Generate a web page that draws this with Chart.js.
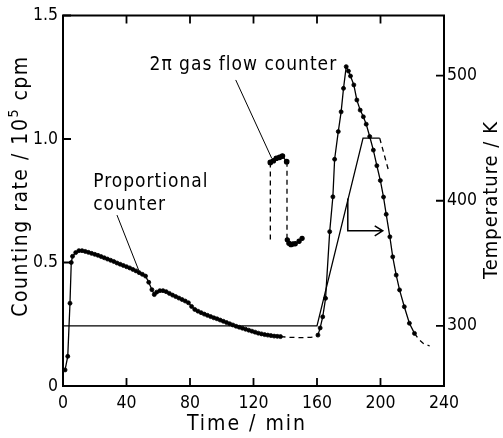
<!DOCTYPE html>
<html>
<head>
<meta charset="utf-8">
<script src="https://cdn.jsdelivr.net/npm/chart.js@4.4.0/dist/chart.umd.min.js"></script>
<style>
  html, body { margin: 0; padding: 0; background: #fff; }
  #wrap { width: 503px; height: 438px; }
</style>
</head>
<body>
<div id="wrap"><canvas id="chart" width="503" height="438"></canvas></div>
<script>
// proportional counter, counting rate in 10^5 cpm
const propTime = [1.3, 3, 4.4, 5.2, 6, 8, 10, 12, 14, 16, 18, 20, 22, 24, 26, 28, 30, 32, 34, 36, 38, 40, 42, 44, 46, 48, 50, 52,
  54, 56, 57.5, 59, 61, 63, 65, 67, 69, 71, 73, 75, 77, 79, 81, 83, 85, 87, 89, 91, 93, 95, 97, 99, 101, 103, 105, 107, 109,
  111, 113, 115, 117, 119, 121, 123, 125, 127, 129, 131, 133, 135, 137];
const propRate = [0.065, 0.12, 0.335, 0.50, 0.525, 0.540, 0.548, 0.548, 0.545, 0.541, 0.537, 0.533, 0.529, 0.524, 0.519, 0.514,
  0.509, 0.504, 0.498, 0.493, 0.488, 0.483, 0.478, 0.472, 0.466, 0.459, 0.452, 0.445,
  0.420, 0.390, 0.370, 0.380, 0.386, 0.386, 0.382, 0.375, 0.368, 0.362, 0.356, 0.350, 0.344, 0.337, 0.322, 0.310, 0.303,
  0.297, 0.291, 0.286, 0.281, 0.276, 0.272, 0.267, 0.262, 0.257, 0.252, 0.247, 0.242, 0.238, 0.234, 0.230, 0.226, 0.222,
  0.218, 0.214, 0.211, 0.208, 0.206, 0.204, 0.202, 0.201, 0.200];

// dashed stretch before heating
const baseTime = [137, 143, 150, 156, 159, 160.6];
const baseRate = [0.200, 0.197, 0.196, 0.197, 0.199, 0.206];

// peak during heating
const peakTime = [160.6, 162, 163.6, 165.4, 168, 170, 171.1, 173.4, 175.2, 176.7, 178.4, 179.8, 181.1, 183.2, 185.1, 187.2,
  189.2, 191, 193.2, 195.5, 197.7, 199.9, 201.9, 203.6, 205.9, 207.7, 209.9, 212, 215, 218.2, 221.4];
const peakRate = [0.206, 0.235, 0.28, 0.355, 0.625, 0.766, 0.918, 1.03, 1.11, 1.205, 1.293, 1.275, 1.255, 1.219, 1.158, 1.117,
  1.09, 1.06, 1.01, 0.955, 0.892, 0.832, 0.765, 0.695, 0.604, 0.523, 0.449, 0.389, 0.321, 0.254, 0.213];

const tailTime = [221.4, 224, 227, 231];
const tailRate = [0.213, 0.19, 0.172, 0.162];

// 2pi gas flow counter
const gasTopTime = [130.6, 132.5, 134.4, 136.4, 138.2, 140.9];
const gasTopRate = [0.905, 0.912, 0.922, 0.926, 0.931, 0.908];
const gasLeftTime = [130.6, 130.6];
const gasLeftRate = [0.905, 0.59];
const gasRightTime = [141.1, 141.1];
const gasRightRate = [0.908, 0.59];
const gasLowTime = [141.3, 142.3, 143.6, 144.8, 146.3, 148.7, 150.6];
const gasLowRate = [0.592, 0.578, 0.572, 0.575, 0.576, 0.586, 0.598];

// temperature / K (right axis)
const tempTime = [0, 160, 189, 199.5];
const tempK = [300, 300, 450, 450];
const tempDashTime = [199.5, 205.3];
const tempDashK = [450, 423];

const xTicks = [0, 40, 80, 120, 160, 200, 240];
const rateTicks = [0, 0.5, 1.0, 1.5];
const tempTicks = [300, 400, 500];

// first narrow-ish font that is really installed
function pickFont(list) {
  const c = document.createElement('canvas').getContext('2d');
  const probe = 'Temperature 0123456789 gas';
  for (const f of list) {
    c.font = '20px monospace';
    const w0 = c.measureText(probe).width;
    c.font = "20px '" + f + "', monospace";
    if (Math.abs(c.measureText(probe).width - w0) > 0.5) return "'" + f + "'";
  }
  return 'sans-serif';
}
const FONT = pickFont(['Liberation Sans Narrow', 'DejaVu Sans Condensed', 'Roboto Condensed', 'Liberation Sans', 'Roboto']);

// tick size so that "120" is about 30px wide
const tickSize = (() => {
  const c = document.createElement('canvas').getContext('2d');
  c.font = '20px ' + FONT;
  return Math.min(21, Math.round(20 * 30 / c.measureText('120').width * 2) / 2);
})();

const pts = (xs, ys) => xs.map((x, i) => ({ x: x, y: ys[i] }));

function line(data, opts) {
  return Object.assign({
    data: data, showLine: true, borderColor: '#000', backgroundColor: '#000',
    borderWidth: 1.3, pointRadius: 0, yAxisID: 'y'
  }, opts || {});
}

const datasets = [
  line(pts(propTime, propRate), { pointRadius: 2, pointBorderWidth: 0.8 }),
  line(pts(baseTime, baseRate), { borderDash: [5, 4] }),
  line(pts(peakTime, peakRate), { pointRadius: 2, pointBorderWidth: 0.8 }),
  line(pts(tailTime, tailRate), { borderDash: [5, 4] }),
  line(pts(gasTopTime, gasTopRate), { pointRadius: 2.2 }),
  line(pts(gasLeftTime, gasLeftRate), { borderDash: [5, 4] }),
  line(pts(gasRightTime, gasRightRate), { borderDash: [5, 4] }),
  line(pts(gasLowTime, gasLowRate), { pointRadius: 2 }),
  line(pts(tempTime, tempK), { yAxisID: 'y1' }),
  line(pts(tempDashTime, tempDashK), { yAxisID: 'y1', borderDash: [5, 4] })
];

// labels, leader lines and arrow in data units
const notes = [
  { text: 'Proportional', x: 19, y: 0.826 },
  { text: 'counter', x: 19, y: 0.733 },
  { text: '2\u03c0 gas flow counter', x: 54.5, y: 1.30 }
];
const leaders = [
  [{ x: 34, y: 0.692 }, { x: 48.4, y: 0.457 }],
  [{ x: 108.8, y: 1.239 }, { x: 131.4, y: 0.923 }]
];
const arrowPath = [{ x: 179.4, y: 401.8 }, { x: 179.4, y: 376 }, { x: 201.4, y: 376 }];

const decor = {
  id: 'decor',
  afterDraw(chart) {
    const { ctx, chartArea: a, scales } = chart;
    const sx = scales.x, sy = scales.y, st = scales.y1;
    ctx.save();
    ctx.strokeStyle = '#000';
    ctx.fillStyle = '#000';

    // frame + inward ticks
    ctx.lineWidth = 2;
    ctx.strokeRect(a.left, a.top, a.right - a.left, a.bottom - a.top);
    ctx.lineWidth = 1.8;
    ctx.beginPath();
    xTicks.forEach(v => {
      const p = sx.getPixelForValue(v);
      ctx.moveTo(p, a.bottom); ctx.lineTo(p, a.bottom - 8);
      ctx.moveTo(p, a.top); ctx.lineTo(p, a.top + 8);
    });
    rateTicks.forEach(v => {
      const p = sy.getPixelForValue(v);
      ctx.moveTo(a.left, p); ctx.lineTo(a.left + 8, p);
    });
    tempTicks.forEach(v => {
      const p = st.getPixelForValue(v);
      ctx.moveTo(a.right, p); ctx.lineTo(a.right - 8, p);
    });
    ctx.stroke();

    // annotation text
    ctx.font = '19px ' + FONT;
    ctx.letterSpacing = '1px';
    ctx.textBaseline = 'middle';
    ctx.textAlign = 'left';
    notes.forEach(n => ctx.fillText(n.text, sx.getPixelForValue(n.x), sy.getPixelForValue(n.y)));

    // leader lines
    ctx.lineWidth = 1;
    ctx.beginPath();
    leaders.forEach(l => {
      ctx.moveTo(sx.getPixelForValue(l[0].x), sy.getPixelForValue(l[0].y));
      ctx.lineTo(sx.getPixelForValue(l[1].x), sy.getPixelForValue(l[1].y));
    });
    ctx.stroke();

    // arrow pointing to temperature axis
    ctx.lineWidth = 1.5;
    ctx.beginPath();
    arrowPath.forEach((p, i) => {
      const px = sx.getPixelForValue(p.x), py = st.getPixelForValue(p.y);
      if (i === 0) ctx.moveTo(px, py); else ctx.lineTo(px, py);
    });
    const tip = arrowPath[arrowPath.length - 1];
    const tx = sx.getPixelForValue(tip.x), ty = st.getPixelForValue(tip.y);
    ctx.moveTo(tx - 8, ty - 5); ctx.lineTo(tx, ty); ctx.lineTo(tx - 8, ty + 5);
    ctx.stroke();

    // axis titles
    ctx.font = '21px ' + FONT;
    ctx.textAlign = 'center';
    ctx.letterSpacing = '2px';
    ctx.fillText('Time / min', 247, 425);

    ctx.font = '20px ' + FONT;
    ctx.letterSpacing = '1px';
    ctx.save();
    ctx.translate(492, 200);
    ctx.rotate(-Math.PI / 2);
    ctx.fillText('Temperature / K', 0, 0);
    ctx.restore();

    // left title with superscript
    ctx.save();
    ctx.translate(22, 186);
    ctx.rotate(-Math.PI / 2);
    ctx.letterSpacing = '1.5px';
    const parts = [['Counting rate / 10', 21, 0], ['5', 14, -8], [' cpm', 21, 0]];
    let total = 0;
    parts.forEach(p => { ctx.font = p[1] + 'px ' + FONT; total += ctx.measureText(p[0]).width; });
    let cx = -total / 2;
    ctx.textAlign = 'left';
    parts.forEach(p => {
      ctx.font = p[1] + 'px ' + FONT;
      ctx.fillText(p[0], cx, p[2]);
      cx += ctx.measureText(p[0]).width;
    });
    ctx.restore();
    ctx.restore();
  }
};

const tickFont = { family: FONT, size: tickSize };

new Chart(document.getElementById('chart'), {
  type: 'scatter',
  data: { datasets: datasets },
  options: {
    responsive: false,
    devicePixelRatio: 1,
    animation: false,
    layout: { padding: { top: 15 } },
    plugins: { legend: { display: false }, tooltip: { enabled: false } },
    scales: {
      x: {
        type: 'linear', min: 0, max: 240,
        afterBuildTicks: s => { s.ticks = xTicks.map(v => ({ value: v })); },
        afterFit: s => { s.height = 52; },
        grid: { display: false, drawTicks: false },
        border: { display: false },
        ticks: { color: '#000', padding: 7, maxRotation: 0, font: tickFont }
      },
      y: {
        position: 'left', min: 0, max: 1.5,
        afterBuildTicks: s => { s.ticks = rateTicks.map(v => ({ value: v })); },
        afterFit: s => { s.width = 63; },
        grid: { display: false, drawTicks: false },
        border: { display: false },
        ticks: { color: '#000', padding: 5, font: tickFont,
          callback: v => v === 0 ? '0' : v.toFixed(1) }
      },
      y1: {
        position: 'right', min: 252, max: 548,
        afterBuildTicks: s => { s.ticks = tempTicks.map(v => ({ value: v })); },
        afterFit: s => { s.width = 59; },
        grid: { display: false, drawTicks: false },
        border: { display: false },
        ticks: { color: '#000', padding: 3, font: tickFont }
      }
    }
  },
  plugins: [decor]
});
</script>
</body>
</html>
